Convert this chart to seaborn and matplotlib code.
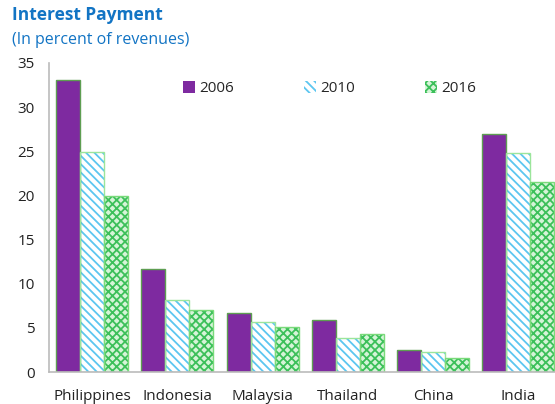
import matplotlib
matplotlib.use("Agg")
import matplotlib.pyplot as plt
import seaborn as sns
import pandas as pd

countries = ["Philippines", "Indonesia", "Malaysia", "Thailand", "China", "India"]
years = ["2006", "2010", "2016"]
v2006 = [33.1, 11.7, 6.7, 5.9, 2.5, 26.9]
v2010 = [24.9, 8.15, 5.65, 3.85, 2.3, 24.8]
v2016 = [19.9, 7.0, 5.1, 4.3, 1.6, 21.5]
yticks = [0, 5, 10, 15, 20, 25, 30, 35]

rows = []
for y, vals in zip(years, [v2006, v2010, v2016]):
    for c, v in zip(countries, vals):
        rows.append({"country": c, "year": y, "value": v})
df = pd.DataFrame(rows)

sns.set_theme(style="white")
plt.rcParams["font.family"] = ["Open Sans", "DejaVu Sans"]
plt.rcParams["hatch.linewidth"] = 1.3

fig = plt.figure(figsize=(5.55, 4.04), dpi=100)
ax = fig.add_axes([0.0883, 0.0792, 0.9117, 0.765])

face = {"2006": "#7E2AA0", "2010": "white", "2016": "#D6F4D8"}
hatchc = {"2006": "#7E2AA0", "2010": "#5CC6F0", "2016": "#3CC05A"}
hatches = {"2006": "", "2010": "\\\\\\\\", "2016": "xxxx"}
outline = {"2006": "#5E9E52", "2010": "#9BE59B", "2016": "#7ADA7A"}

sns.barplot(data=df, x="country", y="value", hue="year", order=countries,
            hue_order=years, width=0.845, ax=ax, legend=False,
            palette=face, saturation=1)
sns.barplot(data=df, x="country", y="value", hue="year", order=countries,
            hue_order=years, width=0.845, ax=ax, legend=False,
            palette=face, saturation=1, fill=False)

n = len(countries)
filled = ax.patches[:3 * n]
outl = ax.patches[3 * n:]
for i, p in enumerate(filled):
    yr = years[i // n]
    p.set_facecolor(face[yr])
    p.set_hatch(hatches[yr])
    p.set_edgecolor(hatchc[yr])
    p.set_linewidth(0)
for i, p in enumerate(outl):
    yr = years[i // n]
    p.set_facecolor("none")
    p.set_edgecolor(outline[yr])
    p.set_linewidth(1.0)
    p.set_hatch(None)

# legend
from matplotlib.patches import Patch
handles = [Patch(facecolor=face[y], edgecolor=hatchc[y], hatch=hatches[y], lw=0) for y in years]
leg = ax.legend(handles, years, ncol=3, loc="upper center", bbox_to_anchor=(0.555, 0.985),
                frameon=False, fontsize=11, handlelength=0.75, handleheight=0.75,
                handletextpad=0.3, columnspacing=4.6)

ax.set_ylim(0, 35)
ax.set_xlim(-0.505, 5.43)
ax.set_yticks(yticks)
ax.set_yticklabels([str(t) for t in yticks], fontsize=11, color="#222222")
ax.tick_params(axis="x", labelsize=11, colors="#222222", length=0, pad=12)
ax.tick_params(axis="y", length=0, pad=10)
ax.set_xlabel("")
ax.set_ylabel("")
for s in ["top", "right"]:
    ax.spines[s].set_visible(False)
for s in ["left", "bottom"]:
    ax.spines[s].set_color("#BBBBBB")
    ax.spines[s].set_linewidth(1.2)

fig.text(0.022, 0.962, "Interest Payment", fontsize=12.5, fontweight="bold",
         color="#1274C4", va="center", ha="left")
fig.text(0.022, 0.9, "(In percent of revenues)", fontsize=11.5,
         color="#1274C4", va="center", ha="left")

fig.savefig("out.png", dpi=100)
